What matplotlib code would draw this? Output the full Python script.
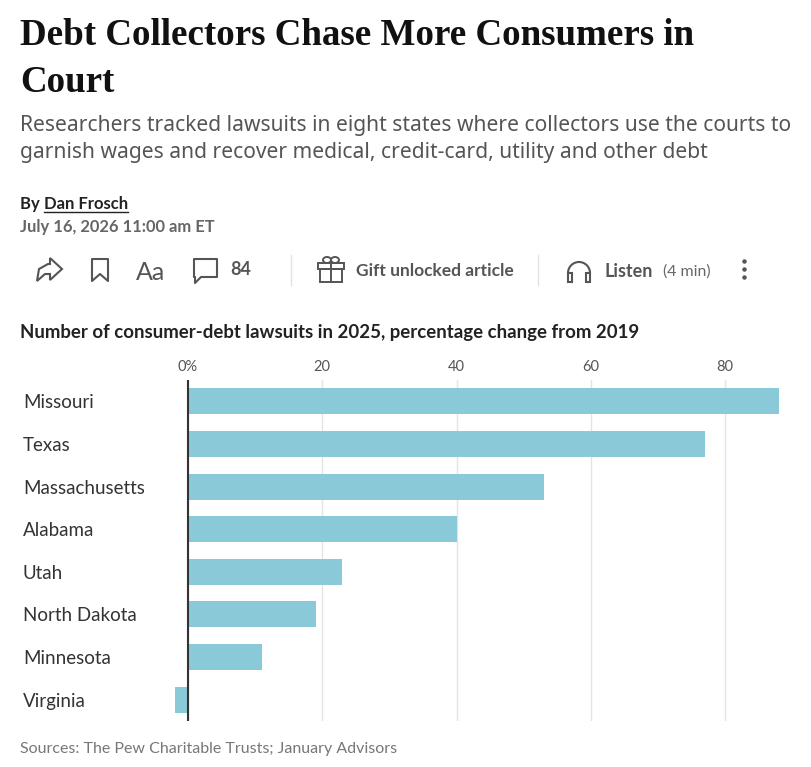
import matplotlib
matplotlib.use("Agg")
import matplotlib.pyplot as plt
import matplotlib.transforms as mtransforms
from matplotlib import font_manager
from matplotlib.patches import Polygon, Rectangle, Arc

states = ["Missouri", "Texas", "Massachusetts", "Alabama", "Utah",
          "North Dakota", "Minnesota", "Virginia"]
pct_change = [88, 77, 53, 40, 23, 19, 11, -2]
x_ticks = [0, 20, 40, 60, 80]
x_tick_labels = ["0%", "20", "40", "60", "80"]

title_lines = ["Debt Collectors Chase More Consumers in", "Court"]
subtitle_lines = ["Researchers tracked lawsuits in eight states where collectors use the courts to",
                  "garnish wages and recover medical, credit-card, utility and other debt"]
chart_title = "Number of consumer-debt lawsuits in 2025, percentage change from 2019"
source = "Sources: The Pew Charitable Trusts; January Advisors"

installed = {f.name for f in font_manager.fontManager.ttflist}
serif = "DejaVu Serif Condensed" if "DejaVu Serif Condensed" in installed else "Liberation Serif"
sans = "Noto Sans" if "Noto Sans" in installed else "DejaVu Sans"
ui = "Lato" if "Lato" in installed else sans

W, H = 811, 767
fig = plt.figure(figsize=(W / 100, H / 100), dpi=100)
fig.patch.set_facecolor("white")

# pixel-coordinate overlay for the article header
bg = fig.add_axes([0, 0, 1, 1], zorder=0)
bg.set_xlim(0, W)
bg.set_ylim(H, 0)
bg.axis("off")

renderer = fig.canvas.get_renderer()


def fit(t, width_px):
    bb = t.get_window_extent(renderer)
    t.set_fontsize(t.get_fontsize() * width_px / bb.width)


t1 = bg.text(20, 45, title_lines[0], family=serif, weight="bold", fontsize=30,
             color="#111111", va="baseline")
fit(t1, 673)
bg.text(20, 92, title_lines[1], family=serif, weight="bold", fontsize=t1.get_fontsize(),
        color="#111111", va="baseline")

s1 = bg.text(20, 131, subtitle_lines[0], family=sans, fontsize=14, color="#555555", va="baseline")
fit(s1, 770)
bg.text(20, 158, subtitle_lines[1], family=sans, fontsize=s1.get_fontsize(),
        color="#555555", va="baseline")

by = bg.text(20, 209, "By ", family=ui, weight="bold", fontsize=12, color="#222222", va="baseline")
bb = by.get_window_extent(renderer)
name = bg.text(20 + bb.width, 209, "Dan Frosch", family=ui, weight="bold", fontsize=12,
               color="#222222", va="baseline")
nb = name.get_window_extent(renderer)
bg.plot([20 + bb.width, 20 + bb.width + nb.width], [212, 212], color="#222222", lw=1)
bg.text(20, 232, "July 16, 2026 11:00 am ET", family=ui, weight="bold", fontsize=11.9,
        color="#666666", va="baseline")

# toolbar icons
ic = "#555555"
bar_y = 270
bg.add_patch(Polygon([(37, 281), (39, 269), (48, 264), (50, 264), (50, 258), (62, 269),
                      (50, 280), (50, 274), (45, 274), (37, 281)], closed=True,
                     fill=False, ec=ic, lw=1.5))
bg.add_patch(Polygon([(92, 259), (108, 259), (108, 281), (100, 274), (92, 281)], closed=True,
                     fill=False, ec=ic, lw=1.5, joinstyle="round"))
bg.text(136, bar_y, "Aa", family=ui, fontsize=18, color=ic, va="center_baseline")
bg.add_patch(Polygon([(194, 259), (217, 259), (217, 277), (201, 277), (195, 283), (195, 277),
                      (194, 277)], closed=True, fill=False, ec=ic, lw=1.5, joinstyle="round"))
bg.text(230, 268, "84", family=ui, weight="bold", fontsize=13, color=ic, va="center_baseline")
bg.plot([291, 291], [255, 285], color="#e2e2e2", lw=1)
bg.add_patch(Rectangle((318, 263), 26, 6, fill=False, ec=ic, lw=1.4))
bg.add_patch(Rectangle((320, 269), 22, 13, fill=False, ec=ic, lw=1.4))
bg.plot([331, 331], [263, 282], color=ic, lw=1.4)
bg.add_patch(Arc((327, 260), 8, 6, fill=False, ec=ic, lw=1.4))
bg.add_patch(Arc((335, 260), 8, 6, fill=False, ec=ic, lw=1.4))
bg.text(356, bar_y, "Gift unlocked article", family=ui, weight="bold", fontsize=12.5,
        color=ic, va="center_baseline")
bg.plot([538, 538], [255, 285], color="#e2e2e2", lw=1)
bg.add_patch(Arc((579, 273), 22, 22, theta1=180, theta2=360, fill=False, ec=ic, lw=1.5))
bg.add_patch(Rectangle((568, 273), 4, 9, fill=False, ec=ic, lw=1.5))
bg.add_patch(Rectangle((586, 273), 4, 9, fill=False, ec=ic, lw=1.5))
bg.text(605, bar_y, "Listen", family=ui, weight="bold", fontsize=12.9, color=ic,
        va="center_baseline")
bg.text(663, bar_y, "(4 min)", family=ui, fontsize=11.4, color="#666666", va="center_baseline")
for yy in (261, 269, 277):
    bg.plot(744, yy, "o", ms=2.2, color=ic)

ct = bg.text(20, 338, chart_title, family=ui, weight="bold", fontsize=12, color="#222222",
             va="baseline")
fit(ct, 614)

bg.text(20, 753, source, family=ui, fontsize=11.5, color="#777777", va="baseline")

# bar chart
px_per_unit = (725 - 188) / 80
ax_left, ax_right = 170, 790
ax_top, ax_bottom = 380, 721
ax = fig.add_axes([ax_left / W, 1 - ax_bottom / H, (ax_right - ax_left) / W,
                   (ax_bottom - ax_top) / H], zorder=2)
ax.patch.set_alpha(0)
ypos = list(range(len(states)))
ax.barh(ypos, pct_change, height=0.61, color="#8ac9d7", zorder=2)
ax.set_xlim(-(188 - ax_left) / px_per_unit, (ax_right - 188) / px_per_unit)
ax.set_ylim(len(states) - 0.5, -0.5)
ax.axvline(0, color="#333333", lw=1.5, zorder=3)
ax.set_xticks(x_ticks)
ax.set_xticklabels(x_tick_labels, family=ui, fontsize=10.5, color="#555555")
ax.xaxis.tick_top()
ax.tick_params(axis="x", length=0, pad=4)
ax.set_yticks([])
ax.grid(axis="x", color="#e4e4e4", lw=1, zorder=0)
ax.set_axisbelow(True)
for sp in ax.spines.values():
    sp.set_visible(False)

lab_tr = mtransforms.blended_transform_factory(bg.transData, ax.transData)
for y, s in zip(ypos, states):
    ax.text(23, y, s, transform=lab_tr, family=ui, fontsize=13.5, color="#333333",
            va="center_baseline", ha="left")

fig.savefig("out.png", dpi=100, facecolor="white")
